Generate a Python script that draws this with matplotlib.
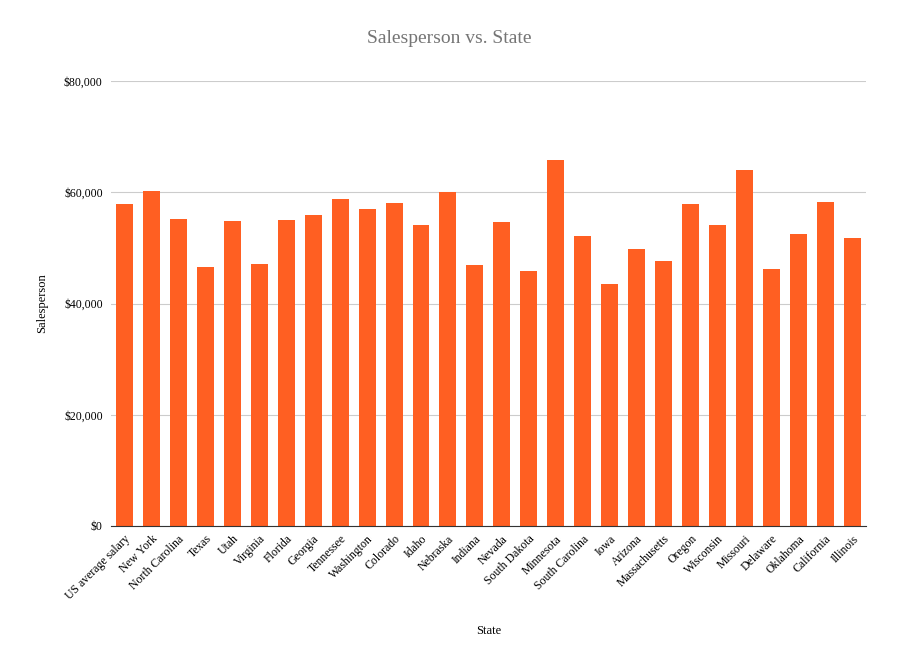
import matplotlib.pyplot as plt
from matplotlib.ticker import FuncFormatter

plt.rcParams['font.family'] = ['Liberation Serif', 'DejaVu Serif']

# data
states = ['US average salary', 'New York', 'North Carolina', 'Texas', 'Utah', 'Virginia',
          'Florida', 'Georgia', 'Tennessee', 'Washington', 'Colorado', 'Idaho', 'Nebraska',
          'Indiana', 'Nevada', 'South Dakota', 'Minnesota', 'South Carolina', 'Iowa',
          'Arizona', 'Massachusetts', 'Oregon', 'Wisconsin', 'Missouri', 'Delaware',
          'Oklahoma', 'California', 'Illinois']
salary = [57900, 60200, 55200, 46500, 54800, 47100, 55000, 55900, 58800, 57000, 58100,
          54100, 60000, 46900, 54600, 45800, 65800, 52100, 43500, 49800, 47600, 57900,
          54100, 64000, 46200, 52500, 58200, 51800]
yticks = [0, 20000, 40000, 60000, 80000]

fig = plt.figure(figsize=(8.99, 6.68), dpi=100)
ax = fig.add_axes([0.1235, 0.2126, 0.8395, 0.6661])

ax.bar(range(len(states)), salary, width=0.63, color='#ff5f22', zorder=3)

ax.set_xlim(-0.5, len(states) - 0.5)
ax.set_ylim(0, 80000)
ax.set_yticks(yticks)
ax.yaxis.set_major_formatter(FuncFormatter(lambda v, p: '${:,.0f}'.format(v)))
ax.set_xticks(range(len(states)))
ax.set_xticklabels(states, rotation=45, ha='right', rotation_mode='anchor', fontsize=8.5)
ax.tick_params(axis='y', labelsize=8.5, length=0, pad=6)
ax.tick_params(axis='x', length=0, pad=5)

ax.grid(axis='y', color='#cccccc', linewidth=0.8, zorder=0)
for s in ['top', 'right', 'left']:
    ax.spines[s].set_visible(False)
ax.spines['bottom'].set_color('#333333')
ax.spines['bottom'].set_zorder(4)

fig.suptitle('Salesperson vs. State', fontsize=14, color='#757575', x=0.5, y=0.955)
ax.set_ylabel('Salesperson', fontsize=9)
ax.yaxis.set_label_coords(-0.083, 0.5)
ax.set_xlabel('State', fontsize=9)
ax.xaxis.set_label_coords(0.5, -0.222)

fig.savefig('out.png', dpi=100)
